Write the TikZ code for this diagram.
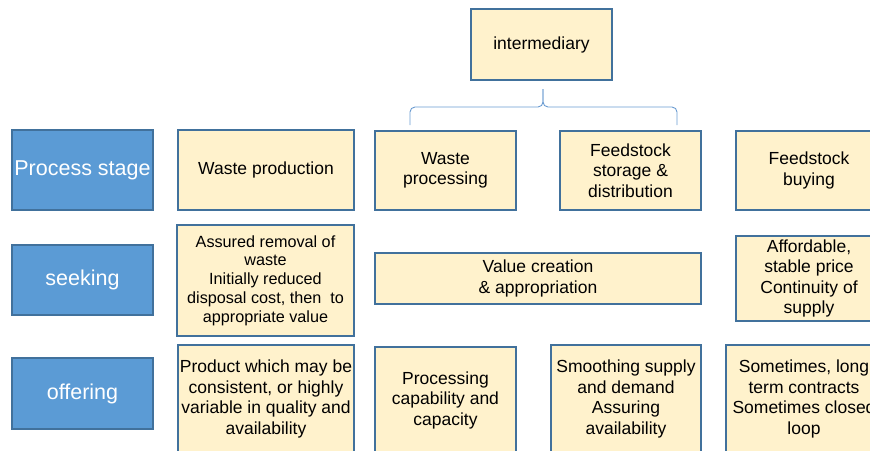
\documentclass[tikz,border=0pt]{standalone}
\usepackage{fontspec}
\setmainfont{Liberation Sans}
\usepackage{xcolor}
\usetikzlibrary{calc,positioning}

\definecolor{rowblue}{HTML}{5B9BD5}
\definecolor{edgeblue}{HTML}{41719C}
\definecolor{boxyellow}{HTML}{FFF2CC}
\definecolor{bracecol}{HTML}{6A9BD1}

\begin{document}
\begin{tikzpicture}[x=1pt,y=-1pt,
            rowlabel/.style={draw=edgeblue, line width=1.2pt, fill=rowblue, text=white,
                inner sep=0pt, minimum width=141pt, font=\fontsize{21.5}{24}\selectfont},
            cell/.style={draw=edgeblue, line width=1.2pt, fill=boxyellow, inner sep=0pt,
                align=center, font=\fontsize{17.5}{20.5}\selectfont},
            bracket/.style={draw=bracecol, line width=0.9pt, rounded corners=5pt}]
            \useasboundingbox (0,0) rectangle (870,450);
            \clip (0,0) rectangle (870,450);
            % top
            \node [cell, minimum width=141pt, minimum height=71pt] (inter) at (541.5,44.5) {intermediary};
            % row labels
            \node [rowlabel, minimum height=80pt] (ps) at (82.5,170) {Process stage};
            \node [rowlabel, minimum height=70pt] (seek) at (82.5,280) {seeking};
            \node [rowlabel, minimum height=71pt] (offer) at (82.5,393.5) {offering};
            % process stage row
            \node [cell, minimum width=176pt, minimum height=80pt] (wprod) at (266,170) {Waste production};
            \node [cell, minimum width=141pt, minimum height=79pt] (wproc) at (445.5,170.5) {Waste\\processing};
            \node [cell, minimum width=141pt, minimum height=79pt] (fstore) at (630.5,170.5) {Feedstock\\storage \&\\distribution};
            \node [cell, minimum width=146pt, minimum height=79pt] (fbuy) at (809,170.5) {Feedstock\\buying};
            % seeking row
            \node [cell, minimum width=177pt, minimum height=111pt, font=\fontsize{16.2}{18.8}\selectfont] (assured) at (265.5,280.5)
                {Assured removal of\\waste\\Initially reduced\\disposal cost, then\ \ to\\appropriate value};
            \node [cell, minimum width=326pt, minimum height=51pt] (value) at (538,278.5) {Value creation\\\& appropriation};
            \node [cell, minimum width=146pt, minimum height=85pt] (afford) at (809,278.5) {Affordable,\\stable price\\Continuity of\\supply};
            % offering row
            \node [cell, minimum width=176pt, minimum height=108pt] (product) at (266,399)
                {Product which may be\\consistent, or highly\\variable in quality and\\availability};
            \node [cell, minimum width=141pt, minimum height=106pt] (pcap) at (445.5,400) {Processing\\capability and\\capacity};
            \node [cell, minimum width=150pt, minimum height=108pt] (smooth) at (626,399) {Smoothing supply\\and demand\\Assuring\\availability};
            \node [cell, minimum width=156pt, minimum height=108pt] (sometimes) at (804,399) {Sometimes, long\\term contracts\\Sometimes closed\\loop};
            % brace under intermediary
            \coordinate (bl) at (410,125);
            \coordinate (br) at (677,125);
            \coordinate (mid) at (543,107);
            \coordinate (tip) at (543,89);
            \draw [bracket] (bl) -- (bl |- mid) -- (mid) -- (tip);
            \draw [bracket] (br) -- (br |- mid) -- (mid) -- (tip);
\end{tikzpicture}
\end{document}
